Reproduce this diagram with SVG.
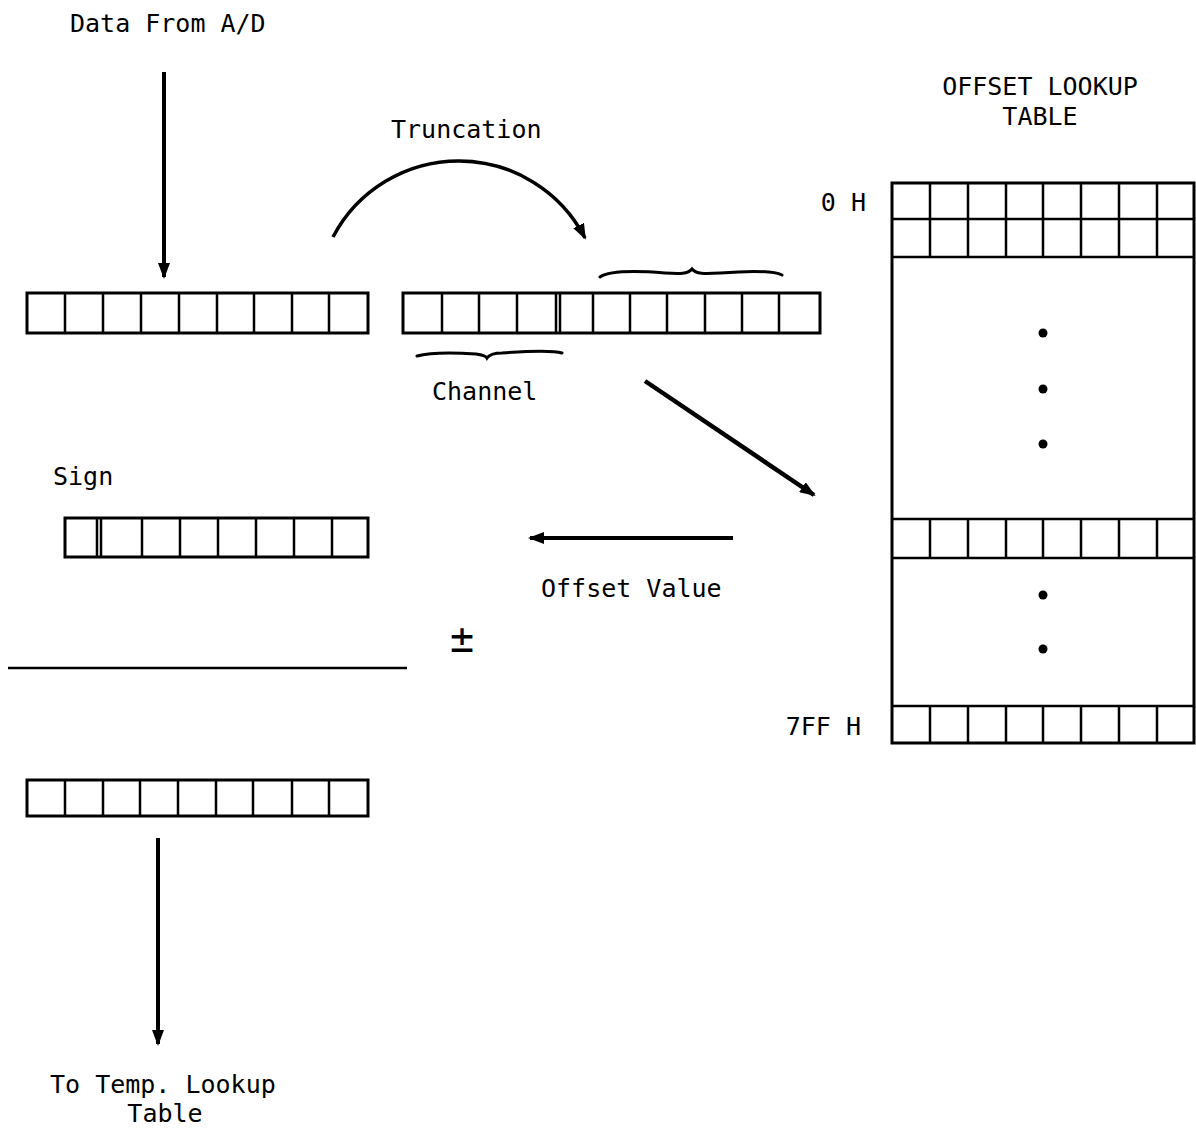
<svg xmlns="http://www.w3.org/2000/svg" width="1196" height="1135" viewBox="0 0 1196 1135">
<style>
  .t { font-family: "DejaVu Sans Mono", "Liberation Mono", monospace; font-size: 25px; fill: #000; }
  .box { fill: #fff; stroke: #000; stroke-width: 3; }
  .div { stroke: #000; stroke-width: 2.5; fill: none; }
  .arr { stroke: #000; stroke-width: 4; fill: none; marker-end: url(#ah); }
  .brace { stroke: #000; stroke-width: 3; fill: none; stroke-linecap: round; }
  .dot { fill: #000; }
</style>
<defs>
  <marker id="ah" markerUnits="userSpaceOnUse" markerWidth="16" markerHeight="12" refX="14" refY="6" orient="auto">
    <path d="M0,0 L16,6 L0,12 z" fill="#000"/>
  </marker>
</defs>
<rect width="1196" height="1135" fill="#fff"/>

<g id="label-data">
  <text class="t" x="70" y="32">Data From A/D</text>
</g>

<g id="reg-input">
  <rect class="box" x="27" y="293" width="341" height="40"/>
  <path class="div" d="M65,293V333M103,293V333M141,293V333M179,293V333M217,293V333M254,293V333M292,293V333M329,293V333"/>
</g>

<g id="reg-truncated">
  <rect class="box" x="403" y="293" width="417" height="40"/>
  <path class="div" d="M442,293V333M479,293V333M517,293V333M556,293V333M560,293V333M593,293V333M630,293V333M667,293V333M705,293V333M742,293V333M779,293V333"/>
  <path class="brace" d="M600,277 C610,270 640,271 665,273 C680,274 688,274 692,269 C696,274 704,274 720,273 C745,271 772,270 782,275"/>
  <path class="brace" d="M417,356 C432,352 460,353 476,354 C483,355 486,356 487,358 C489,355 493,353 502,353 C530,351 552,350 562,353"/>
  <text class="t" x="432" y="400">Channel</text>
</g>

<g id="label-truncation">
  <text class="t" x="391" y="138">Truncation</text>
</g>

<g id="offset-table">
  <text class="t" x="1040" y="95" text-anchor="middle">OFFSET LOOKUP</text>
  <text class="t" x="1040" y="125" text-anchor="middle">TABLE</text>
  <rect class="box" x="892" y="183" width="302" height="560"/>
  <path class="div" d="M892,219H1194M892,257H1194M892,519H1194M892,558H1194M892,706H1194"/>
  <path class="div" d="M930,183V257M968,183V257M1006,183V257M1043,183V257M1081,183V257M1119,183V257M1157,183V257"/>
  <path class="div" d="M930,519V558M968,519V558M1006,519V558M1043,519V558M1081,519V558M1119,519V558M1157,519V558"/>
  <path class="div" d="M930,706V743M968,706V743M1006,706V743M1043,706V743M1081,706V743M1119,706V743M1157,706V743"/>
  <circle class="dot" cx="1043" cy="333" r="4.5"/>
  <circle class="dot" cx="1043" cy="389" r="4.5"/>
  <circle class="dot" cx="1043" cy="444" r="4.5"/>
  <circle class="dot" cx="1043" cy="595" r="4.5"/>
  <circle class="dot" cx="1043" cy="649" r="4.5"/>
  <text class="t" x="866" y="211" text-anchor="end">0 H</text>
  <text class="t" x="861" y="735" text-anchor="end">7FF H</text>
</g>

<g id="reg-sign">
  <text class="t" x="53" y="485">Sign</text>
  <rect class="box" x="65" y="518" width="303" height="39"/>
  <path class="div" d="M97,518V557M101,518V557M142,518V557M180,518V557M218,518V557M256,518V557M294,518V557M332,518V557"/>
</g>

<g id="label-offset-value">
  <text class="t" x="541" y="597">Offset Value</text>
</g>

<g id="plus-minus">
  <text class="t" x="462" y="652" text-anchor="middle" style="font-size:40px">±</text>
  <line class="div" x1="8" y1="668" x2="407" y2="668"/>
</g>

<g id="reg-result">
  <rect class="box" x="27" y="780" width="341" height="36"/>
  <path class="div" d="M65,780V816M103,780V816M140,780V816M178,780V816M216,780V816M253,780V816M292,780V816M329,780V816"/>
</g>

<g id="label-output">
  <text class="t" x="50" y="1093">To Temp. Lookup</text>
  <text class="t" x="165" y="1122" text-anchor="middle">Table</text>
</g>

<g id="connectors">
  <line class="arr" x1="164" y1="72" x2="164" y2="277"/>
  <path class="arr" d="M333,237 A142,142 0 0,1 585,238" style="stroke-width:3.5"/>
  <line class="arr" x1="645" y1="381" x2="814" y2="495" style="stroke-width:4.5"/>
  <line class="arr" x1="733" y1="538" x2="530" y2="538"/>
  <line class="arr" x1="158" y1="838" x2="158" y2="1044"/>
</g>
</svg>
